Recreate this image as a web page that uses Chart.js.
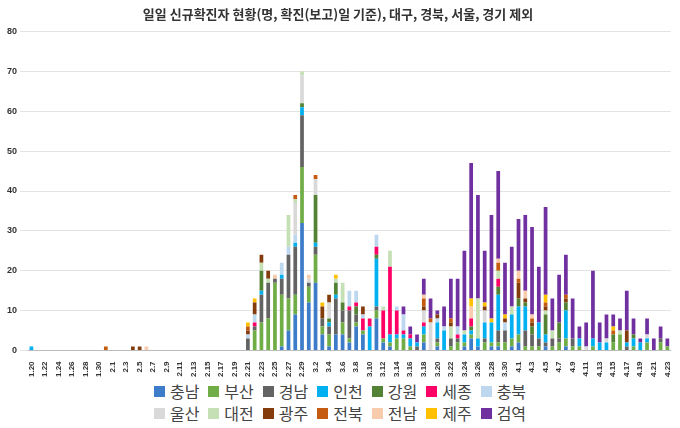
<!DOCTYPE html>
<html><head><meta charset="utf-8">
<script src="https://cdn.jsdelivr.net/npm/chart.js@4"></script>
<style>html,body{margin:0;padding:0;background:#fff}#w{width:680px;height:380px;position:relative}
#lg{width:680px;font-family:'Noto Sans CJK KR';font-size:16px;color:#444;text-align:center;line-height:22px}
#lg .row{display:flex;justify-content:center;gap:9px}
#lg span.i{display:inline-flex;align-items:center}
#lg b{display:inline-block;width:11px;height:11px;margin-right:5px}</style>
</head><body><div id="w"><canvas id="c"></canvas></div><div id="lg"></div>
<script>
const labels=["1.20","1.21","1.22","1.23","1.24","1.25","1.26","1.27","1.28","1.29","1.30","1.31",
"2.1","2.2","2.3","2.4","2.5","2.6","2.7","2.8","2.9","2.10","2.11","2.12","2.13","2.14","2.15","2.16","2.17","2.18","2.19","2.20","2.21","2.22","2.23","2.24","2.25","2.26","2.27","2.28","2.29",
"3.1","3.2","3.3","3.4","3.5","3.6","3.7","3.8","3.9","3.10","3.11","3.12","3.13","3.14","3.15","3.16","3.17","3.18","3.19","3.20","3.21","3.22","3.23","3.24","3.25","3.26","3.27","3.28","3.29","3.30","3.31",
"4.1","4.2","4.3","4.4","4.5","4.6","4.7","4.8","4.9","4.10","4.11","4.12","4.13","4.14","4.15","4.16","4.17","4.18","4.19","4.20","4.21","4.22","4.23"];
const Z10=[0,0,0,0,0,0,0,0,0,0];
const chungnam=[...Z10,...Z10,...Z10, 0,0,0,0,0,0,0,1,5,9, 32,12,17,4,1,4,4,2,6,4, 0,8,2,1,0,0,0,0,2,0, 1,0,0,0,1,3,1,0,1,1, 0,1,2,0,0,0,1,0,0,1, 0,0,0,0,0,0,0,0,0,0, 0,0,0,0,0];
const busan=[...Z10,...Z10,...Z10, 0,0,0,5,7,8,17,13,8,5, 14,4,7,2,3,0,3,1,1,1, 0,2,1,1,3,3,1,0,2,0, 1,0,1,2,1,1,0,2,1,1, 2,2,2,1,1,1,0,1,2,2, 1,1,0,1,0,0,2,4,0,1, 0,2,0,2,1];
const gyeongnam=[...Z10,...Z10,...Z10, 0,0,3,1,7,9,1,4,11,12, 13,1,2,2,2,9,3,7,2,0, 0,1,0,0,0,0,0,1,0,0, 1,0,2,1,0,0,0,1,0,3, 3,0,0,4,3,2,1,2,1,0, 2,0,0,0,0,0,0,0,1,0, 0,0,0,1,0];
const incheon=[1,0,0,0,0,0,0,0,0,0,...Z10,...Z10, 0,0,0,0,1,0,0,1,0,1, 2,0,1,0,1,1,0,0,0,0, 6,12,0,2,1,1,2,1,2,0, 4,5,0,0,2,1,2,4,5,9, 0,6,7,6,0,4,2,0,0,7, 0,2,0,2,2,2,0,0,1,2, 2,1,0,0,0];
const gangwon=[...Z10,...Z10,...Z10, 0,0,0,0,5,0,0,0,0,0, 1,0,12,0,1,3,2,0,2,0, 0,1,0,0,0,0,0,0,0,0, 0,0,0,0,0,1,0,0,0,2, 0,0,2,1,2,0,5,0,4,2, 0,0,0,0,0,0,2,0,0,1, 0,0,0,0,0];
const sejong=[...Z10,...Z10,...Z10, 0,0,0,1,0,0,0,0,0,0, 0,0,0,0,0,0,0,1,1,3, 2,2,7,17,6,1,1,0,1,0, 0,0,0,1,0,2,0,0,0,2, ...Z10, ...Z10, 0,0,0,0,0];
const chungbuk=[...Z10,...Z10,...Z10, 0,0,1,2,0,0,0,3,2,2, 0,0,0,0,0,0,0,4,3,1, 0,3,0,0,1,4,0,0,0,0, 1,1,0,2,0,0,0,0,0,0, 2,0,0,0,0,0,0,0,0,0, ...Z10, 0,0,0,0,0];
const ulsan=[...Z10,...Z10,...Z10, 0,0,0,0,0,0,0,0,0,8, 7,1,4,0,4,0,0,0,0,0, 0,0,0,0,0,0,0,0,3,7, 0,0,0,0,0,0,0,3,0,0, ...Z10, 0,0,1,0,0,1,0,0,0,0, 0,1,0,0,0];
const daejeon=[...Z10,...Z10,...Z10, 0,0,0,0,2,1,0,0,8,1, 1,0,0,0,0,1,5,0,0,0, 0,0,1,4,0,0,0,0,0,0, 0,0,3,0,1,0,10,0,0,2, 0,2,0,0,0,0,1,2,0,0, 0,0,0,0,0,0,0,1,0,0, 0,0,0,0,0];
const gwangju=[...Z10, 0,0,0,0,0,1,1,0,0,0, ...Z10, 0,0,1,3,2,2,0,0,0,0, 0,0,0,3,2,0,0,0,0,2, 0,0,0,0,0,0,0,0,1,0, 1,0,1,0,0,0,0,1,0,0, 1,0,4,1,1,0,1,0,0,1, 0,0,0,0,0,0,0,0,3,0, 0,0,0,0,0];
const jeonbuk=[...Z10, 0,1,0,0,0,0,0,0,0,0, ...Z10, 0,0,1,0,0,0,0,0,0,1, 0,0,1,0,0,0,0,0,0,0, 0,0,0,0,0,0,0,0,2,1, 0,0,1,0,0,0,0,0,0,2, 0,0,1,0,1,0,1,0,0,1, 0,0,0,0,0,0,1,0,0,0, 0,0,0,0,0];
const jeonnam=[...Z10, 0,0,0,0,0,0,0,1,0,0, ...Z10, 0,0,0,0,0,0,1,0,0,0, 0,1,0,0,0,0,0,0,0,0, 0,0,0,0,0,0,0,0,1,0, 0,0,0,0,0,3,0,0,0,1, 0,0,2,2,1,0,0,0,0,0, ...Z10, 0,0,0,0,0];
const jeju=[...Z10,...Z10,...Z10, 0,0,1,1,0,0,0,0,0,0, 0,0,0,1,0,1,0,0,0,0, ...Z10, 0,0,0,0,0,2,0,1,1,0, 1,0,0,0,0,0,2,0,0,0, 0,0,0,0,0,0,1,0,0,0, 0,0,0,0,0];
const quarantine=[...Z10,...Z10,...Z10,...Z10,...Z10, 0,0,0,0,0,2,2,2,4,5, 1,5,10,12,20,34,26,13,26,22, 13,15,13,19,22,14,22,8,12,10, 10,3,6,17,5,6,3,3,10,4, 1,4,3,3,2];
const seriesNames=["충남","부산","경남","인천","강원","세종","충북","울산","대전","광주","전북","전남","제주","검역"];
const seriesData=[chungnam,busan,gyeongnam,incheon,gangwon,sejong,chungbuk,ulsan,daejeon,gwangju,jeonbuk,jeonnam,jeju,quarantine];
const colors=["#3d7cc9","#70ad47","#636363","#00b0f0","#548235","#ff0066","#bdd7ee","#d9d9d9","#c5e0b4","#843c0c","#c55a11","#f8cbad","#ffc000","#7030a0"];
new Chart(document.getElementById('c'),{type:'bar',
data:{labels,datasets:seriesNames.map((n,i)=>({label:n,data:seriesData[i],backgroundColor:colors[i],categoryPercentage:1,barPercentage:0.55}))},
options:{responsive:true,maintainAspectRatio:false,animation:false,
layout:{padding:{left:4,right:8,top:4,bottom:0}},
plugins:{title:{display:true,text:'일일 신규확진자 현황(명, 확진(보고)일 기준), 대구, 경북, 서울, 경기 제외',font:{family:'Noto Sans CJK KR',size:13,weight:'bold'},color:'#333',padding:{top:2,bottom:10}},
legend:{display:false},tooltip:{enabled:false}},
scales:{x:{stacked:true,grid:{display:false},border:{color:'#bbb'},ticks:{autoSkip:false,maxRotation:90,minRotation:90,font:{family:'Liberation Sans',size:8,weight:'bold'},color:'#333',callback:(v,i)=>i%2===0?labels[i]:''}},
y:{stacked:true,min:0,max:80,ticks:{stepSize:10,font:{family:'Liberation Sans',size:9,weight:'bold'},color:'#333'},grid:{color:'#e3e3e3'},border:{display:false}}}}});
const lg=document.getElementById('lg');
[[0,7],[7,14]].forEach(([a,b])=>{const r=document.createElement('div');r.className='row';
for(let i=a;i<b;i++){const s=document.createElement('span');s.className='i';s.innerHTML='<b style="background:'+colors[i]+'"></b>'+seriesNames[i];r.appendChild(s);}
lg.appendChild(r);});
</script></body></html>
